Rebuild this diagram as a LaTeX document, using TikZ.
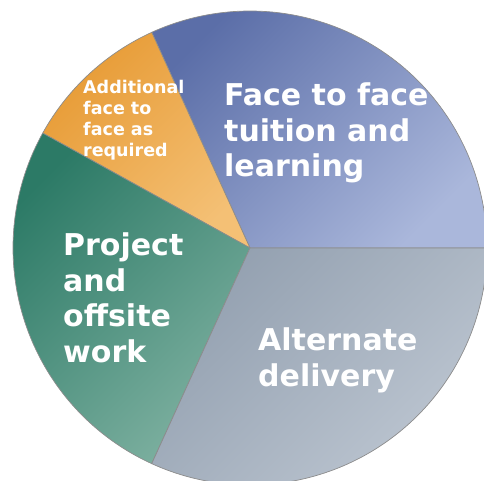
\documentclass[tikz,border=0pt]{standalone}
\usepackage{fontspec}
\setsansfont{DejaVu Sans}
\usepackage{tikz}
\usepackage{xcolor}
\usetikzlibrary{positioning,calc}

\definecolor{facedark}{HTML}{5B6EA8}
\definecolor{facelight}{HTML}{AAB7DB}
\definecolor{extradark}{HTML}{E79B35}
\definecolor{extralight}{HTML}{F4C075}
\definecolor{projdark}{HTML}{2C7A66}
\definecolor{projlight}{HTML}{7DB0A0}
\definecolor{altdark}{HTML}{93A0B0}
\definecolor{altlight}{HTML}{BEC7D2}

\begin{document}
\begin{tikzpicture}[
      x=1pt, y=1pt,
      slice/.style 2 args={draw=black!45, line width=0.7pt, top color=#1, bottom color=#2, shading angle=45},
      slicetext/.style={anchor=north west, inner sep=0pt, align=left, text=white, font=\sffamily\bfseries\fontsize{30}{35.5}\selectfont},
      smalltext/.style={slicetext, font=\sffamily\bfseries\fontsize{17.5}{21}\selectfont}
  ]
    \useasboundingbox (0,0) rectangle (484,481);
    \clip (0,0) rectangle (484,481);
    \coordinate (ctr) at (250,233);
    % pie slices
    \shade[slice={facedark}{facelight}]
      (ctr) -- ++(0:237) arc[start angle=0, end angle=114.5, radius=237] -- cycle;
    \shade[slice={extradark}{extralight}]
      (ctr) -- ++(114.5:237) arc[start angle=114.5, end angle=151, radius=237] -- cycle;
    \shade[slice={projdark}{projlight}]
      (ctr) -- ++(151:237) arc[start angle=151, end angle=245.5, radius=237] -- cycle;
    \shade[slice={altdark}{altlight}]
      (ctr) -- ++(245.5:237) arc[start angle=245.5, end angle=360, radius=237] -- cycle;
    % labels
    \node[slicetext] (face) at (224,398) {Face to face\\tuition and\\learning};
    \node[smalltext] (extra) at (83,401) {Additional\\face to\\face as\\required};
    \node[slicetext] (proj) at (63,248) {Project\\and\\offsite\\work};
    \node[slicetext] (alt) at (258,153) {Alternate\\delivery};
  \end{tikzpicture}
\end{document}
